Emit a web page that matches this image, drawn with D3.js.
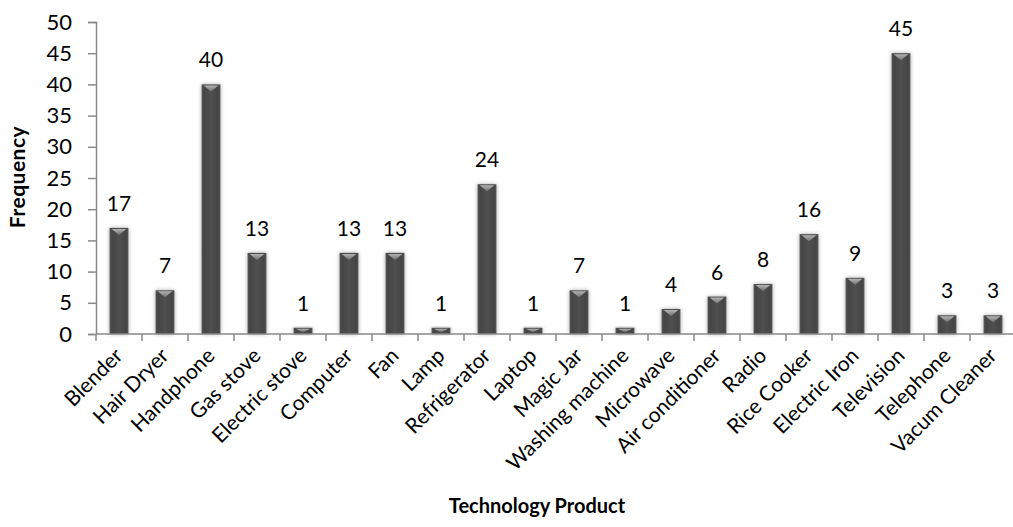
<!DOCTYPE html>
<html>
<head>
<meta charset="utf-8">
<script src="https://cdn.jsdelivr.net/npm/d3@7"></script>
<style>
  body { margin: 0; background: #fff; }
  svg { display: block; font-family: Lato, "Open Sans", sans-serif; }
</style>
</head>
<body>
<svg id="chart" width="1013" height="527"></svg>
<script>
// data
var products = ["Blender", "Hair Dryer", "Handphone", "Gas stove", "Electric stove", "Computer",
  "Fan", "Lamp", "Refrigerator", "Laptop", "Magic Jar", "Washing machine", "Microwave",
  "Air conditioner", "Radio", "Rice Cooker", "Electric Iron", "Television", "Telephone", "Vacum Cleaner"];
var frequency = [17, 7, 40, 13, 1, 13, 13, 1, 24, 1, 7, 1, 4, 6, 8, 16, 9, 45, 3, 3];
var yTicks = [0, 5, 10, 15, 20, 25, 30, 35, 40, 45, 50];

var svg = d3.select("#chart");
var plotLeft = 96, plotTop = 22, plotBottom = 334;
var FONT = "Lato, 'Open Sans', sans-serif";

var x = d3.scaleBand()
  .domain(products)
  .range([plotLeft, plotLeft + 46 * products.length])
  .paddingInner(0.59)
  .paddingOuter(0.295);

var y = d3.scaleLinear().domain([0, 50]).range([plotBottom, plotTop]);

// gradients + shadow
var defs = svg.append("defs");
var g1 = defs.append("linearGradient").attr("id", "barGrad").attr("x1", 0).attr("x2", 1).attr("y1", 0).attr("y2", 0);
g1.append("stop").attr("offset", "0%").attr("stop-color", "#5a5a5a");
g1.append("stop").attr("offset", "12%").attr("stop-color", "#444");
g1.append("stop").attr("offset", "50%").attr("stop-color", "#505050");
g1.append("stop").attr("offset", "88%").attr("stop-color", "#444");
g1.append("stop").attr("offset", "100%").attr("stop-color", "#5a5a5a");
var g2 = defs.append("linearGradient").attr("id", "capGrad").attr("x1", 0).attr("x2", 0).attr("y1", 0).attr("y2", 1);
g2.append("stop").attr("offset", "0%").attr("stop-color", "#b4b4b4");
g2.append("stop").attr("offset", "100%").attr("stop-color", "#707070");
var f = defs.append("filter").attr("id", "shadow").attr("x", "-50%").attr("y", "-20%").attr("width", "200%").attr("height", "140%");
f.append("feGaussianBlur").attr("in", "SourceAlpha").attr("stdDeviation", 2).attr("result", "b");
f.append("feComponentTransfer").attr("in", "b").attr("result", "s")
  .append("feFuncA").attr("type", "linear").attr("slope", 0.35);
var m = f.append("feMerge");
m.append("feMergeNode").attr("in", "s");
m.append("feMergeNode").attr("in", "SourceGraphic");

// y axis
var yAxis = svg.append("g")
  .attr("transform", "translate(" + plotLeft + ",0)")
  .call(d3.axisLeft(y).tickValues(yTicks).tickSize(8).tickPadding(16));
yAxis.select(".domain").attr("stroke", "#888").attr("stroke-width", 1.5);
yAxis.selectAll(".tick line").attr("stroke", "#888").attr("stroke-width", 1.5);
yAxis.selectAll(".tick text")
  .attr("font-family", FONT)
  .attr("font-size", 22)
  .attr("fill", "#000");

// bars
var bars = svg.selectAll("g.bar")
  .data(products)
  .enter().append("g")
  .attr("class", "bar")
  .attr("filter", "url(#shadow)");

bars.append("rect")
  .attr("x", function(d) { return x(d); })
  .attr("y", function(d, i) { return y(frequency[i]); })
  .attr("width", x.bandwidth())
  .attr("height", function(d, i) { return y(0) - y(frequency[i]); })
  .attr("fill", "url(#barGrad)");

bars.append("path")
  .attr("d", function(d, i) {
    var x0 = x(d), w = x.bandwidth(), yt = y(frequency[i]);
    var h = Math.min(6, (y(0) - yt) / 2);
    return "M" + (x0 + 2) + "," + (yt + 1) + "L" + (x0 + w - 2) + "," + (yt + 1) +
      "L" + (x0 + w / 2) + "," + (yt + 1 + h) + "Z";
  })
  .attr("fill", "url(#capGrad)");

// x axis
var xAxis = svg.append("g")
  .attr("transform", "translate(0," + plotBottom + ")")
  .call(d3.axisBottom(x).tickSize(0).tickPadding(0));
xAxis.select(".domain").remove();
svg.append("line")
  .attr("x1", plotLeft).attr("x2", 1013)
  .attr("y1", plotBottom).attr("y2", plotBottom)
  .attr("stroke", "#888").attr("stroke-width", 1.5);
svg.selectAll("line.xtick")
  .data(d3.range(products.length + 1))
  .enter().append("line")
  .attr("class", "xtick")
  .attr("x1", function(i) { return plotLeft + x.step() * i; })
  .attr("x2", function(i) { return plotLeft + x.step() * i; })
  .attr("y1", plotBottom).attr("y2", plotBottom + 7)
  .attr("stroke", "#888").attr("stroke-width", 1.5);

xAxis.selectAll(".tick text")
  .attr("text-anchor", "end")
  .attr("dy", 0)
  .attr("transform", "translate(5,23) rotate(-45)")
  .attr("font-family", FONT)
  .attr("font-size", 21)
  .attr("fill", "#000");

// value labels
svg.selectAll("text.val")
  .data(products)
  .enter().append("text")
  .attr("class", "val")
  .attr("x", function(d) { return x(d) + x.bandwidth() / 2; })
  .attr("y", function(d, i) { return y(frequency[i]) - 17; })
  .attr("text-anchor", "middle")
  .attr("font-size", 21)
  .text(function(d, i) { return frequency[i]; });

// axis titles
svg.append("text")
  .attr("transform", "translate(25,177) rotate(-90)")
  .attr("text-anchor", "middle")
  .attr("font-size", 21)
  .attr("font-weight", "bold")
  .attr("letter-spacing", 0.5)
  .text("Frequency");

svg.append("text")
  .attr("x", 537).attr("y", 513)
  .attr("text-anchor", "middle")
  .attr("font-size", 20)
  .attr("font-weight", "bold")
  .text("Technology Product");
</script>
</body>
</html>
